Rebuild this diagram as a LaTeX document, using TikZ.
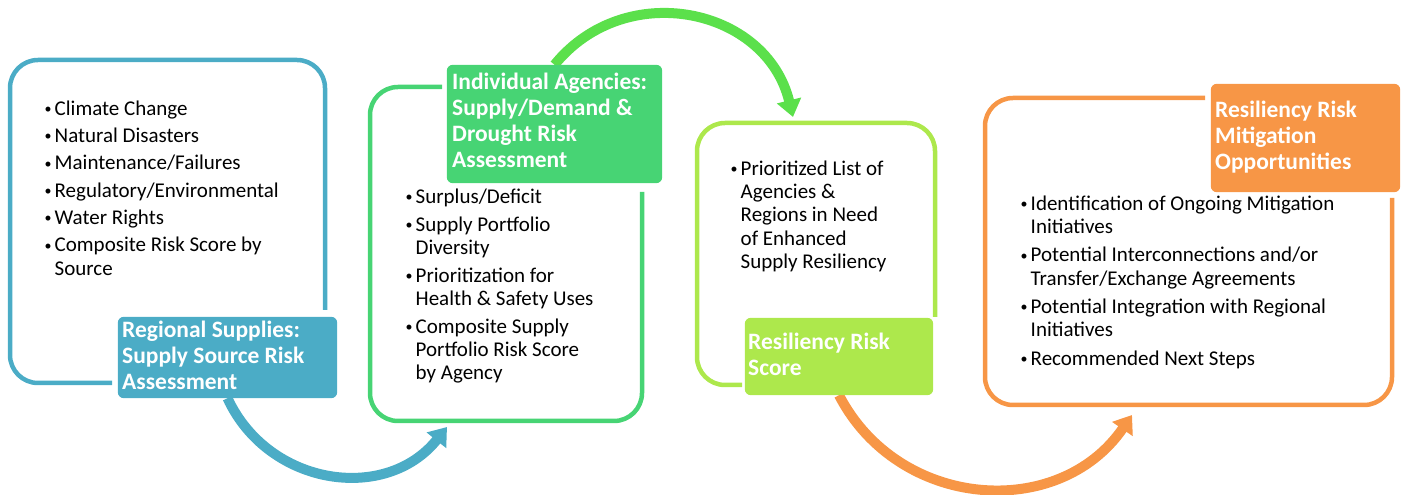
\documentclass[tikz,border=0pt]{standalone}
\usepackage{fontspec}
\setmainfont{Carlito}
\usetikzlibrary{arrows.meta}
\definecolor{cblue}{HTML}{4BACC6}
\definecolor{cgreen}{HTML}{47D474}
\definecolor{cgreenarrow}{HTML}{5BE04B}
\definecolor{clime}{HTML}{ADE84C}
\definecolor{corange}{HTML}{F79646}
\newcommand{\bitem}{\makebox[11pt][l]{\hspace*{1pt}{\fontsize{14}{14}\selectfont\raisebox{1.6pt}{\textbullet}}}}
\newcommand{\bcont}{\hspace*{11pt}}
\begin{document}
\begin{tikzpicture}[x=1pt,y=1pt,
  frame/.style={line width=4.5pt, rounded corners=28pt},
  labelbox/.style={draw=none, inner sep=0pt},
  labelfill/.style={rounded corners=6pt},
  ltext/.style={anchor=north west, inner sep=0pt, align=left, text=white,
    font=\fontsize{23.5}{26}\selectfont\bfseries},
  btext/.style={anchor=north west, inner sep=0pt, align=left,
    font=\fontsize{21}{23.3}\selectfont},
  flow/.style={line width=10pt, -{Triangle[length=17pt,width=24pt]}}]
\useasboundingbox (0,0) rectangle (1403,495);

% label boxes (nodes, filled later)
\node[labelbox, minimum width=219pt, minimum height=81pt] (L1) at (227.5,137.5) {};
\node[labelbox, minimum width=215pt, minimum height=118pt] (L2) at (554.5,371) {};
\node[labelbox, minimum width=188pt, minimum height=77pt] (L3) at (839,138.5) {};
\node[labelbox, minimum width=189pt, minimum height=108pt] (L4) at (1305.5,357) {};

% arrow end points
\coordinate (tipB) at (447,68);
\coordinate (tipG) at (793,378);
\coordinate (tipO) at (1132,80);

% arrows
\draw[flow, cblue] (L1.south) .. controls (268.3,8.6) and (386.1,-8.3) .. (tipB);
\draw[flow, cgreenarrow] (L2.north) .. controls (625.3,517.5) and (766.5,487.4) .. (tipG);
\draw[flow, corange] (L3.south) .. controls (898.3,-14.8) and (1058.8,-26.5) .. (tipO);

% frames
\draw[frame, cblue] (325,185) -- (325,435) -- (10,435) -- (10,112) -- (112,112);
\draw[frame, cgreen] (442,408) -- (370,408) -- (370,74) -- (642,74) -- (642,303);
\draw[frame, clime] (935,178) -- (935,372) -- (697,372) -- (697,110) -- (742,110);
\draw[frame, corange] (1205,397) -- (985,397) -- (985,90) -- (1392,90) -- (1392,297);

% label fills
\fill[labelfill, cblue] (L1.south west) rectangle (L1.north east);
\fill[labelfill, cgreen] (L2.south west) rectangle (L2.north east);
\fill[labelfill, clime] (L3.south west) rectangle (L3.north east);
\fill[labelfill, corange] (L4.south west) rectangle (L4.north east);

% label texts
\node[ltext] (T1) at (122,176.2) {\strut Regional Supplies:\\Supply Source Risk\\Assessment};
\node[ltext] (T2) at (452,424.2) {\strut Individual Agencies:\\Supply/Demand \&\\Drought Risk\\Assessment};
\node[ltext] (T3) at (748,164.2) {\strut Resiliency Risk\\Score};
\node[ltext] (T4) at (1215,396.2) {\strut Resiliency Risk\\Mitigation\\Opportunities};

% bullet texts
\node[btext] (B1) at (43.5,396.3) {\strut\bitem Climate Change\\[4pt]
\bitem Natural Disasters\\[4pt]
\bitem Maintenance/Failures\\[4pt]
\bitem Regulatory/Environmental\\[4pt]
\bitem Water Rights\\[4pt]
\bitem Composite Risk Score by\\
\bcont Source};
\node[btext] (B2) at (404.5,308.3) {\strut\bitem Surplus/Deficit\\[4.5pt]
\bitem Supply Portfolio\\
\bcont Diversity\\[4.5pt]
\bitem Prioritization for\\
\bcont Health \& Safety Uses\\[4.5pt]
\bitem Composite Supply\\
\bcont Portfolio Risk Score\\
\bcont by Agency};
\node[btext] (B3) at (729.5,336.3) {\strut\bitem Prioritized List of\\
\bcont Agencies \&\\
\bcont Regions in Need\\
\bcont of Enhanced\\
\bcont Supply Resiliency};
\node[btext] (B4) at (1019.5,301.3) {\strut\bitem Identification of Ongoing Mitigation\\
\bcont Initiatives\\[5pt]
\bitem Potential Interconnections and/or\\
\bcont Transfer/Exchange Agreements\\[5pt]
\bitem Potential Integration with Regional\\
\bcont Initiatives\\[5pt]
\bitem Recommended Next Steps};
\end{tikzpicture}
\end{document}
